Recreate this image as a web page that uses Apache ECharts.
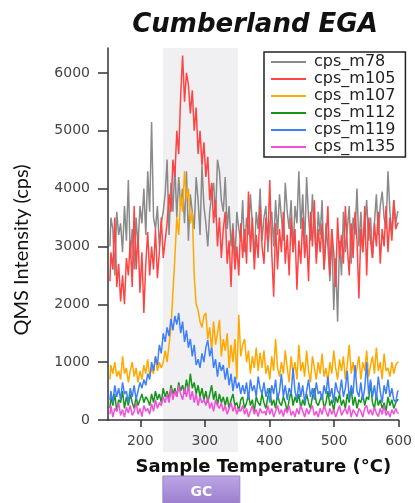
<!DOCTYPE html>
<html>
<head>
<meta charset="utf-8">
<script src="https://cdn.jsdelivr.net/npm/echarts@6/dist/echarts.min.js"></script>
<style>
html,body{margin:0;padding:0;background:#fff;}
#chart{width:415px;height:503px;}
</style>
</head>
<body>
<div id="chart"></div>
<script>
// Temperatures (°C)
const temps = [
153,156,159,162,165,168,171,174,177,180,
183,186,189,192,195,198,201,204,207,210,
213,216,219,222,225,228,231,234,237,240,
243,246,249,252,255,258,261,264,267,270,
273,276,279,282,285,288,291,294,297,300,
303,306,309,312,315,318,321,324,327,330,
333,336,339,342,345,348,351,354,357,360,
363,366,369,372,375,378,381,384,387,390,
393,396,399,402,405,408,411,414,417,420,
423,426,429,432,435,438,441,444,447,450,
453,456,459,462,465,468,471,474,477,480,
483,486,489,492,495,498,501,504,507,510,
513,516,519,522,525,528,531,534,537,540,
543,546,549,552,555,558,561,564,567,570,
573,576,579,582,585,588,591,594,597,600];

const cps_m78 = [
3000,3500,3300,2500,3600,3200,3400,2900,3700,3100,
4150,2800,3300,2600,3500,3000,3700,3400,4000,3200,
4300,3600,5150,3500,3300,3700,3000,3400,3600,3900,
4500,3200,4100,3600,4400,3500,4200,3700,4000,3400,
4300,3100,3900,3600,3300,4200,3800,3200,4400,3700,
3400,3000,3600,3900,4100,3500,4500,4300,3800,3600,
4200,3300,3700,3000,3400,2700,3600,3300,3100,3800,
2900,3500,3200,3900,3400,2800,3600,3300,4000,3100,
3500,3700,2900,3400,3600,3000,3800,3200,3900,3500,
3100,4100,3600,3300,3800,2900,3700,3400,4300,3300,
3900,3000,4200,3500,3100,3900,3300,2800,3600,3200,
3800,2600,3400,3000,2400,3300,1900,2800,1700,3100,
2500,3600,2900,3300,3700,2700,3500,3200,4000,3000,
3600,2900,3300,3800,3100,3500,2800,3400,3900,3200,
3700,3950,3500,3300,4300,3600,3200,3800,3400,3600];

const cps_m105 = [
2400,2900,2600,3500,2300,2700,2050,2500,2000,2800,
2500,3100,2300,3700,2600,3200,2200,2900,1850,2700,
3250,2500,3000,2600,3300,2450,2900,3500,2800,3100,
3400,3900,3600,4500,4200,5000,4600,5600,6300,5500,
6000,5800,5300,5700,5000,5400,4600,5000,4400,4800,
4200,4550,3800,4100,3400,3800,3000,3500,2800,3300,
3600,2700,3100,2300,3300,2600,3000,2500,3400,2800,
3300,2700,3950,2900,3500,2600,3200,2800,3700,3000,
2700,3500,3100,4150,2900,2130,3400,2600,3300,2900,
3600,2700,3200,2500,3500,2900,3300,2250,3100,2700,
3500,2800,3200,2400,3600,3000,3800,2700,3300,2900,
3400,2600,3100,3700,2500,3300,2900,2300,3500,2800,
3200,2700,3700,3000,2500,3400,2800,3600,3100,2100,
3300,2900,3700,2500,3500,3100,2800,3400,3000,3600,
2700,3300,3000,3700,2900,3500,3100,3800,3300,3400];

const cps_m107 = [
700,950,800,1000,750,850,700,1100,800,900,
650,850,1000,750,900,650,850,700,950,800,
1050,750,900,800,1100,850,1000,900,1000,1200,
1000,1300,1600,2200,2800,3500,3200,3900,3600,4300,
3800,4000,3400,3600,2500,2000,1900,1700,1600,1800,
1850,1400,1600,1200,1700,1300,1500,1730,1100,1400,
1200,1500,900,1300,1000,1400,700,1820,1100,1300,
1400,1000,1200,800,1100,900,1250,850,1160,900,
1200,800,950,700,1100,850,1400,900,750,1000,
800,1200,900,650,1100,800,1000,700,1300,850,
1000,750,1200,850,650,1100,900,700,1000,800,
1150,750,900,650,1000,800,1200,900,700,1050,
850,1100,700,950,1300,800,1000,750,900,1100,
700,1000,850,1200,750,950,1100,800,1250,850,
1000,700,1150,850,900,750,1000,800,950,1000];

const cps_m112 = [
200,400,250,450,150,350,300,500,200,400,
250,450,300,200,400,250,350,450,300,400,
350,250,450,300,500,350,450,300,550,400,
500,350,600,450,550,400,650,500,600,450,
700,500,800,550,650,450,600,400,550,350,
500,300,450,600,350,500,250,450,300,400,
250,400,200,350,450,250,300,150,350,400,
200,300,450,250,350,150,400,300,250,450,
300,200,400,550,250,350,200,450,300,250,
400,300,150,350,500,250,400,300,450,200,
350,250,450,300,200,400,550,300,250,350,
450,200,300,500,250,350,150,400,300,450,
250,350,200,450,300,550,250,400,200,350,
300,450,250,400,350,650,300,200,450,250,
350,200,300,150,400,250,350,200,300,350];

const cps_m119 = [
350,500,300,600,400,550,350,650,450,500,
300,550,400,600,350,500,650,550,700,600,
800,700,1000,850,1100,950,1300,1150,1500,1350,
1600,1450,1750,1550,1800,1650,1850,1500,1700,1350,
1550,1250,1400,1100,1300,950,1050,900,1150,1000,
1250,1380,1100,1250,900,1050,750,1000,850,950,
700,900,600,800,500,750,550,650,450,600,
450,650,350,700,500,600,400,750,550,450,
650,400,550,300,600,450,700,350,500,800,
400,600,350,550,450,900,500,350,650,400,
600,300,500,700,400,550,350,650,450,500,
350,600,450,750,400,550,300,650,500,450,
700,400,550,850,350,600,450,950,500,400,
650,350,550,1000,450,700,400,600,350,750,
500,300,600,450,700,400,550,350,300,500];

const cps_m135 = [
100,250,50,200,150,300,80,180,50,220,
120,250,80,150,300,100,200,60,250,150,
200,100,280,150,350,200,300,250,400,300,
450,300,550,350,500,400,600,450,350,550,
400,600,350,500,300,450,250,400,300,350,
250,400,200,300,150,350,250,200,300,150,
250,100,200,300,150,250,100,200,150,250,
100,200,50,150,250,100,180,60,200,120,
150,80,250,100,200,50,150,250,100,180,
60,200,120,250,80,150,50,200,100,250,
150,50,200,100,180,250,80,150,50,200,
100,250,150,60,200,100,180,50,150,250,
80,150,200,100,250,50,180,120,60,200,
150,50,200,250,100,180,80,220,120,60,
200,100,250,80,150,50,180,100,200,120];

const seriesNames = ['cps_m78','cps_m105','cps_m107','cps_m112','cps_m119','cps_m135'];
const seriesValues = [cps_m78, cps_m105, cps_m107, cps_m112, cps_m119, cps_m135];
const seriesColors = ['#8a8a8a','#ff4444','#ffa800','#15961a','#3f7ff7','#f250d8'];

const xTicks = [200,300,400,500,600];
const yTicks = [0,1000,2000,3000,4000,5000,6000];
const gcRange = [235, 351];

const chart = echarts.init(document.getElementById('chart'), null, {renderer:'canvas'});

const series = seriesNames.map((name, i) => ({
  name: name,
  type: 'line',
  step: 'middle',
  symbol: 'none',
  data: temps.map((t, k) => [t, seriesValues[i][k]]),
  lineStyle: {color: seriesColors[i], width: 1.5},
  itemStyle: {color: seriesColors[i]},
  emphasis: {disabled: true},
  animation: false
}));

chart.setOption({
  animation: false,
  title: {
    text: 'Cumberland EGA',
    left: 250, top: 7, textAlign: 'center',
    textStyle: {fontFamily: 'DejaVu Sans', fontWeight: 'bold', fontStyle: 'italic', fontSize: 26, color: '#111'}
  },
  legend: {
    orient: 'vertical',
    left: 264, top: 52,
    backgroundColor: '#fff',
    borderColor: '#222', borderWidth: 1.5,
    padding: [2, 10, 2, 7],
    icon: 'rect',
    itemWidth: 35, itemHeight: 2, itemGap: 1,
    textStyle: {fontFamily: 'DejaVu Sans', fontSize: 16, lineHeight: 15, color: '#222', padding: [0,0,0,3]},
    data: seriesNames
  },
  grid: {left: 108, right: 13, top: 48, bottom: 83, containLabel: false},
  xAxis: {
    type: 'value', min: 150, max: 600,
    name: 'Sample Temperature (°C)', nameLocation: 'middle', nameGap: 38,
    nameTextStyle: {fontFamily: 'DejaVu Sans', fontWeight: 'bold', fontSize: 18, color: '#111', padding: [0,0,0,20]},
    axisLine: {show: true, onZero: false, lineStyle: {color: '#333', width: 1.5}},
    axisTick: {show: true, length: 7, customValues: xTicks, lineStyle: {color: '#333', width: 1.5}},
    axisLabel: {customValues: xTicks, fontFamily: 'DejaVu Sans', fontSize: 14, color: '#444', margin: 14},
    splitLine: {show: false}
  },
  yAxis: {
    type: 'value', min: 0, max: 6430,
    name: 'QMS Intensity (cps)', nameLocation: 'middle', nameGap: 76, nameRotate: 90,
    nameTextStyle: {fontFamily: 'Lato', fontSize: 20, color: '#111', padding: [0,32,0,0]},
    axisLine: {show: true, lineStyle: {color: '#333', width: 1.5}},
    axisTick: {show: true, length: 10, customValues: yTicks, lineStyle: {color: '#333', width: 1.5}},
    axisLabel: {customValues: yTicks, formatter: v => String(v), fontFamily: 'DejaVu Sans', fontSize: 14, color: '#444', margin: 18},
    splitLine: {show: false}
  },
  series: series
});

// shaded GC window and GC button, positioned through the x scale
const x0 = chart.convertToPixel({xAxisIndex: 0}, gcRange[0]);
const x1 = chart.convertToPixel({xAxisIndex: 0}, gcRange[1]);
const yTop = chart.convertToPixel({yAxisIndex: 0}, 6430);
chart.setOption({
  graphic: [
    {type: 'rect', z: -10, silent: true,
     shape: {x: x0, y: yTop, width: x1 - x0, height: 452 - yTop},
     style: {fill: '#f0eff2'}},
    {type: 'rect', z: 10, silent: true,
     shape: {x: x0, y: 476, width: x1 - x0 + 2, height: 40},
     style: {
       fill: new echarts.graphic.LinearGradient(0, 0, 0, 1, [
         {offset: 0, color: '#bda7e6'}, {offset: 1, color: '#8c6bc4'}]),
       stroke: '#9a80cc', lineWidth: 1
     }},
    {type: 'text', z: 11, silent: true,
     x: (x0 + x1) / 2 + 1, y: 492,
     style: {text: 'GC', fill: '#fff', font: 'bold 14px "DejaVu Sans"', align: 'center', verticalAlign: 'middle'}}
  ]
});
</script>
</body>
</html>
